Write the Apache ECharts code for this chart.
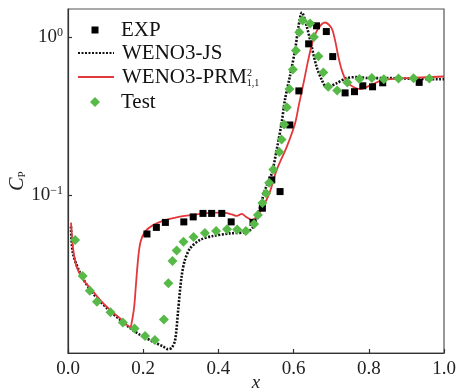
<!DOCTYPE html>
<html><head><meta charset="utf-8">
<script src="https://cdn.jsdelivr.net/npm/echarts@6/dist/echarts.min.js"></script>
<style>html,body{margin:0;padding:0;background:#fff}#c{width:459px;height:392px}</style>
</head><body><div id="c"></div>
<script>
// ---- data ----
const xTickValues = [0, 0.2, 0.4, 0.6, 0.8, 1.0];
const yTickValues = [0.1, 1];
const yTickExponents = ['\u22121', '0'];

const expX = [0.210,0.235,0.259,0.308,0.333,0.359,0.382,0.409,0.434,0.492,0.517,0.542,0.564,0.590,0.614,0.640,0.661,0.687,0.704,0.737,0.762,0.784,0.810,0.837,0.934];
const expY = [0.0566,0.0623,0.0670,0.0675,0.0726,0.0764,0.0764,0.0764,0.0675,0.0670,0.0824,0.1244,0.105,0.277,0.455,0.903,1.174,1.080,0.750,0.442,0.450,0.490,0.483,0.512,0.515];

const jsX = [0.008,0.013,0.032,0.059,0.085,0.112,0.143,0.165,0.192,0.226,0.253,0.266,0.276,0.285,0.293,0.302,0.311,0.325,0.351,0.386,0.431,0.475,0.493,0.506,0.515,0.524,0.542,0.555,0.568,0.577,0.590,0.604,0.613,0.622,0.635,0.648,0.661,0.675,0.688,0.715,0.741,0.768,0.799,0.839,0.989,1.0];
const jsY = [0.0630,0.0429,0.0321,0.0251,0.0213,0.0184,0.0159,0.0144,0.0130,0.0118,0.0110,0.01055,0.0108,0.0121,0.0187,0.0304,0.0388,0.0460,0.0519,0.0550,0.0571,0.0583,0.0630,0.0766,0.0907,0.1075,0.1372,0.1927,0.2843,0.3994,0.5608,0.8274,1.162,1.425,1.162,0.868,0.6486,0.5344,0.4805,0.5093,0.5484,0.5558,0.5484,0.5484,0.5389,0.540];

const prmX = [0.008,0.014,0.023,0.041,0.059,0.085,0.112,0.143,0.166,0.169,0.176,0.181,0.187,0.193,0.205,0.223,0.254,0.298,0.351,0.386,0.418,0.436,0.449,0.462,0.475,0.489,0.502,0.519,0.537,0.555,0.582,0.604,0.614,0.626,0.639,0.652,0.666,0.684,0.701,0.710,0.719,0.728,0.741,0.759,0.777,0.794,0.812,0.839,0.901,1.0];
const prmY = [0.0668,0.0449,0.0352,0.0290,0.0258,0.0217,0.0187,0.0162,0.0146,0.0154,0.0196,0.0276,0.0407,0.0506,0.0586,0.0637,0.0688,0.0729,0.0758,0.0773,0.0769,0.0752,0.0737,0.0758,0.0723,0.0695,0.0729,0.0843,0.1045,0.1439,0.2021,0.2843,0.3712,0.504,0.715,0.957,1.135,1.232,1.135,0.957,0.750,0.618,0.521,0.481,0.467,0.481,0.504,0.534,0.548,0.561];

const testX = [0.019,0.039,0.058,0.077,0.113,0.146,0.177,0.205,0.231,0.255,0.267,0.278,0.289,0.307,0.334,0.364,0.394,0.423,0.450,0.473,0.495,0.505,0.517,0.527,0.535,0.546,0.562,0.568,0.575,0.582,0.589,0.598,0.606,0.615,0.624,0.644,0.654,0.666,0.679,0.692,0.716,0.743,0.775,0.808,0.840,0.879,0.919,0.961];
const testY = [0.0519,0.0307,0.0248,0.0211,0.0181,0.0156,0.0143,0.0128,0.0121,0.0163,0.0276,0.0382,0.0445,0.0506,0.0542,0.0575,0.0592,0.0607,0.0604,0.0592,0.0655,0.0747,0.089,0.1025,0.1196,0.145,0.1866,0.2245,0.2794,0.359,0.467,0.621,0.819,1.071,1.268,1.214,0.996,0.755,0.594,0.483,0.457,0.515,0.542,0.550,0.539,0.546,0.548,0.546];

const seriesNames = ['EXP', 'WENO3-JS', 'WENO3-PRM', 'Test'];

// ---- chart ----
const zip = (xs, ys) => xs.map((x, i) => [x, ys[i]]);
const FONT = "'Liberation Serif', 'Times New Roman', serif";
const chart = echarts.init(document.getElementById('c'), null, {renderer: 'canvas'});

const legendText = (padLeft) => ({
  fontFamily: FONT, fontSize: 21, color: '#111', lineHeight: 22, padding: [0, 0, 0, padLeft],
  rich: {s: {fontFamily: FONT, fontSize: 10, color: '#111', lineHeight: 12, verticalAlign: 'bottom'}}
});
const legendBase = {orient: 'vertical', padding: 0, itemGap: 0,
  formatter: name => name === 'WENO3-PRM' ? 'WENO3-PRM{s|1,1}' : name};

chart.setOption({
  animation: false,
  backgroundColor: '#fff',
  grid: {left: 68, right: 15, top: 9, bottom: 39, show: true, borderColor: '#555', borderWidth: 1.2,
         containLabel: false, outerBoundsMode: 'none'},
  xAxis: {
    type: 'value', min: 0, max: 1, interval: 0.2,
    axisLine: {show: true, lineStyle: {color: '#333', width: 1.2}},
    axisTick: {show: true, inside: true, length: 4, lineStyle: {color: '#333', width: 1.2}},
    axisLabel: {formatter: v => v.toFixed(1), fontFamily: FONT, fontSize: 19, color: '#222', margin: 7},
    splitLine: {show: false},
    name: 'x', nameLocation: 'middle', nameGap: 20, nameMoveOverlap: false,
    nameTextStyle: {fontFamily: FONT, fontSize: 19, fontStyle: 'italic', color: '#222'}
  },
  yAxis: {
    type: 'log', logBase: 10, min: 0.01, max: 1.5,
    axisLine: {show: true, lineStyle: {color: '#333', width: 1.2}},
    axisTick: {show: true, inside: true, length: 4, lineStyle: {color: '#333', width: 1.2}, customValues: yTickValues},
    axisLabel: {
      customValues: yTickValues,
      formatter: v => {
        let idx = -1;
        yTickValues.forEach((t, i) => { if (Math.abs(Math.log10(v) - Math.log10(t)) < 1e-6) idx = i; });
        return idx < 0 ? '' : '{b|10}{e|' + yTickExponents[idx] + '}';
      },
      margin: 5,
      rich: {
        b: {fontFamily: FONT, fontSize: 19, color: '#222', lineHeight: 20},
        e: {fontFamily: FONT, fontSize: 12, color: '#222', lineHeight: 12, verticalAlign: 'top'}
      }
    },
    splitLine: {show: false},
    minorTick: {show: false},
    name: '{c|C}{p|P}', nameLocation: 'middle', nameGap: 40, nameRotate: 90, nameMoveOverlap: false,
    nameTextStyle: {
      rich: {
        c: {fontFamily: FONT, fontSize: 20, fontStyle: 'italic', color: '#222', lineHeight: 20},
        p: {fontFamily: FONT, fontSize: 11, color: '#222', lineHeight: 11, verticalAlign: 'bottom'}
      }
    }
  },
  legend: [
    Object.assign({}, legendBase, {left: 91.5, top: 19, itemWidth: 7, itemHeight: 7,
      data: [seriesNames[0]], textStyle: legendText(17.5)}),
    Object.assign({}, legendBase, {left: 77, top: 42, itemWidth: 36, itemHeight: 8,
      data: [{name: seriesNames[1], itemStyle: {opacity: 0}}], textStyle: legendText(3)}),
    Object.assign({}, legendBase, {left: 77, top: 66, itemWidth: 36, itemHeight: 8,
      data: [{name: seriesNames[2], itemStyle: {opacity: 0}}], textStyle: legendText(3)}),
    Object.assign({}, legendBase, {left: 90, top: 91, itemWidth: 10, itemHeight: 10,
      data: [seriesNames[3]], textStyle: legendText(16)})
  ],
  graphic: [
    {type: 'text', left: 247, top: 68, style: {text: '2', font: "10px 'Liberation Serif', serif", fill: '#111'}}
  ],
  series: [
    {name: 'WENO3-JS', type: 'line', data: zip(jsX, jsY), symbol: 'none', smooth: 0.3, z: 2,
     lineStyle: {color: '#111', width: 2.6, type: [2, 1.5], cap: 'butt'}, itemStyle: {color: '#111'}},
    {name: 'WENO3-PRM', type: 'line', data: zip(prmX, prmY), symbol: 'none', smooth: 0.3, z: 3,
     lineStyle: {color: '#e2383b', width: 1.8}, itemStyle: {color: '#e2383b'}},
    {name: 'EXP', type: 'scatter', data: zip(expX, expY), symbol: 'rect', symbolSize: 7, z: 4,
     itemStyle: {color: '#000', opacity: 1}},
    {name: 'Test', type: 'scatter', data: zip(testX, testY), symbol: 'diamond', symbolSize: 10, z: 5,
     itemStyle: {color: '#57b947', opacity: 1}}
  ]
});
</script>
</body></html>
